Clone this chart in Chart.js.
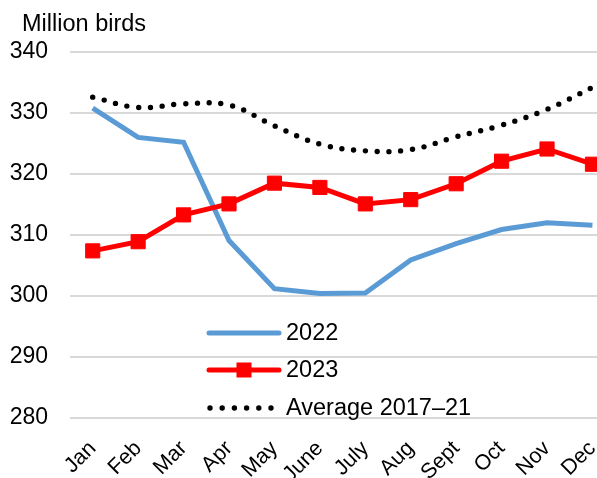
<!DOCTYPE html>
<html>
<head>
<meta charset="utf-8">
<script src="https://cdn.jsdelivr.net/npm/chart.js@4/dist/chart.umd.min.js"></script>
<style>
  html, body { margin: 0; padding: 0; background: #fff; }
</style>
</head>
<body>
<canvas id="c" width="597" height="478"></canvas>
<script>
// Monthly flock size, million birds
const months = ['Jan', 'Feb', 'Mar', 'Apr', 'May', 'June', 'July', 'Aug', 'Sept', 'Oct', 'Nov', 'Dec'];
const flock2022 = [330.8, 326.0, 325.2, 309.1, 301.2, 300.4, 300.5, 305.9, 308.6, 310.9, 312.0, 311.6];
const flock2023 = [307.4, 308.9, 313.3, 315.1, 318.5, 317.8, 315.1, 315.8, 318.4, 322.1, 324.1, 321.6];
const avg2017to21 = [332.6, 330.9, 331.5, 331.3, 327.9, 324.9, 323.8, 324.0, 326.1, 328.0, 330.6, 334.2];
const yTicks = [280, 290, 300, 310, 320, 330, 340];
const unitLabel = 'Million birds';
const seriesNames = ['2022', '2023', 'Average 2017\u201321'];

const FONT = '"Liberation Sans", Arial, Helvetica, sans-serif';
const BLUE = '#5B9BD5';
const RED = '#FF0000';

const toPoints = vals => vals.map((v, i) => ({ x: i, y: v }));

// Unit label above the value axis
const unitPlugin = {
  id: 'unitLabel',
  afterDraw(chart) {
    const ctx = chart.ctx;
    ctx.save();
    ctx.font = '23.5px ' + FONT;
    ctx.fillStyle = '#000';
    ctx.textAlign = 'left';
    ctx.textBaseline = 'alphabetic';
    ctx.fillText(unitLabel, 22, 31);
    ctx.restore();
  }
};

// Legend drawn inside the plot area
const insetLegend = {
  id: 'insetLegend',
  afterDraw(chart) {
    const ctx = chart.ctx;
    const x0 = 209, x1 = 279, tx = 286;
    const rows = [333, 370, 408];
    ctx.save();
    ctx.lineCap = 'round';
    // 2022
    ctx.strokeStyle = BLUE;
    ctx.lineWidth = 5;
    ctx.beginPath(); ctx.moveTo(x0, rows[0]); ctx.lineTo(x1, rows[0]); ctx.stroke();
    // 2023
    ctx.strokeStyle = RED;
    ctx.beginPath(); ctx.moveTo(x0, rows[1]); ctx.lineTo(x1, rows[1]); ctx.stroke();
    ctx.fillStyle = RED;
    ctx.fillRect((x0 + x1) / 2 - 7.5, rows[1] - 7.5, 15, 15);
    // average
    ctx.fillStyle = '#000';
    for (let i = 0; i < 6; i++) {
      ctx.beginPath();
      ctx.arc(x0 + 1 + i * 12.2, rows[2], 2.7, 0, Math.PI * 2);
      ctx.fill();
    }
    ctx.font = '23.5px ' + FONT;
    ctx.textAlign = 'left';
    ctx.textBaseline = 'middle';
    rows.forEach((y, i) => ctx.fillText(seriesNames[i], tx, y + 1));
    ctx.restore();
  }
};

new Chart(document.getElementById('c'), {
  type: 'line',
  data: {
    datasets: [
      {
        label: seriesNames[0],
        data: toPoints(flock2022),
        borderColor: BLUE,
        borderWidth: 5,
        pointRadius: 0,
        tension: 0,
        order: 3
      },
      {
        label: seriesNames[1],
        data: toPoints(flock2023),
        borderColor: RED,
        backgroundColor: RED,
        borderWidth: 5,
        pointStyle: 'rect',
        pointRadius: 10,
        pointBorderWidth: 1,
        pointBackgroundColor: RED,
        pointBorderColor: RED,
        tension: 0,
        order: 2
      },
      {
        label: seriesNames[2],
        data: toPoints(avg2017to21),
        borderColor: '#000',
        borderWidth: 5.4,
        borderDash: [0, 11.8],
        borderCapStyle: 'round',
        pointRadius: 0,
        tension: 0.4,
        order: 1
      }
    ]
  },
  options: {
    responsive: false,
    animation: false,
    layout: { autoPadding: false, padding: { top: 52, right: 0, bottom: 0, left: 0 } },
    plugins: { legend: { display: false }, tooltip: { enabled: false } },
    scales: {
      x: {
        type: 'linear',
        min: -0.5,
        max: 11.1,
        afterBuildTicks: s => { s.ticks = months.map((m, i) => ({ value: i })); },
        afterFit: s => { s.height = 60; s.paddingLeft = 0; s.paddingRight = 0; },
        grid: { display: false },
        border: { display: false },
        ticks: {
          autoSkip: false,
          minRotation: 45,
          maxRotation: 45,
          padding: 10,
          color: '#000',
          font: { family: FONT, size: 21.5 },
          callback: v => months[v]
        }
      },
      y: {
        min: 280,
        max: 340,
        afterBuildTicks: s => { s.ticks = yTicks.map(v => ({ value: v })); },
        afterFit: s => { s.width = 70; s.paddingTop = 0; s.paddingBottom = 0; },
        grid: { color: '#D9D9D9', lineWidth: 2, drawTicks: false },
        border: { display: false },
        ticks: {
          padding: 22,
          color: '#000',
          font: { family: FONT, size: 23 }
        }
      }
    }
  },
  plugins: [unitPlugin, insetLegend]
});
</script>
</body>
</html>
